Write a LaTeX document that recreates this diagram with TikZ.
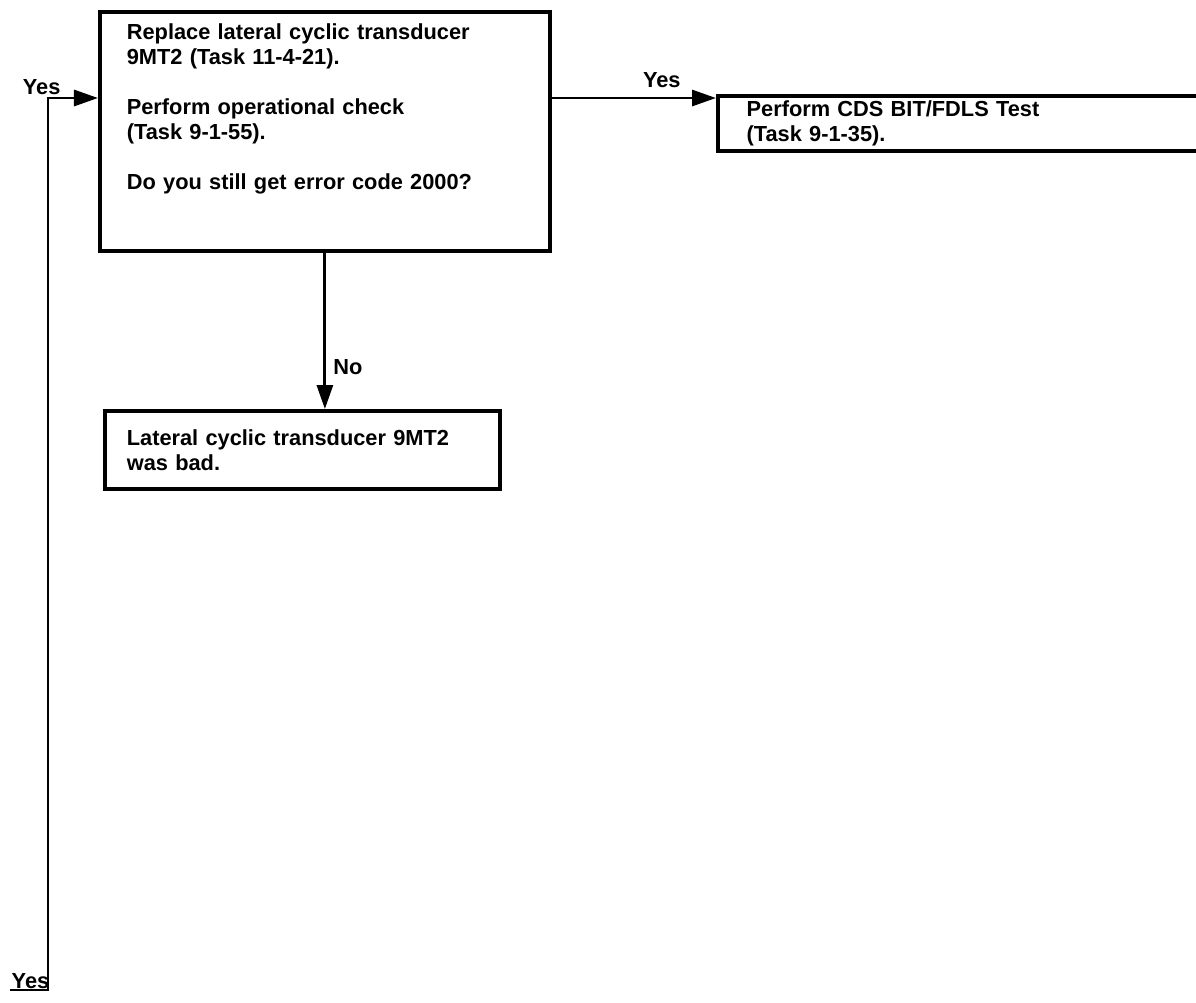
\documentclass[tikz,border=0pt]{standalone}
\usepackage{fontspec}
\setmainfont{Liberation Sans}
\usetikzlibrary{arrows.meta,calc,positioning}

\begin{document}
\begin{tikzpicture}[
  x=0.025cm,
  y=-0.025cm,
  font=\fontsize{15.5}{17.8}\selectfont\bfseries,
  taskbox/.style={
    draw=black,
    line width=2.6pt,
    align=left,
    anchor=north west
  },
  flow/.style={
    black,
    line width=2.1pt,
    -{Triangle[length=0.6cm,width=0.4cm]}
  },
  lbl/.style={
    inner sep=2pt,
    font=\fontsize{15.5}{18}\selectfont\bfseries
  }
]

\useasboundingbox (0,0) rectangle (1196,1002);

\node[taskbox,text width=9.9cm,inner xsep=0.675cm,inner ysep=0.3cm]
  (replace) at (98,10)
  {Replace lateral cyclic transducer\\
   9MT2 (Task 11-4-21).\\[17.8pt]
   Perform operational check\\
   (Task 9-1-55).\\[17.8pt]
   Do you still get error code 2000?\\[0.6cm]
   \mbox{}};

\node[taskbox,text width=11.1cm,inner xsep=0.72cm,inner ysep=0pt,
      minimum height=1.38cm]
  (cdstest) at (716,94)
  {Perform CDS BIT/FDLS Test\\
   (Task 9-1-35).};

\node[taskbox,text width=8.775cm,inner xsep=0.55cm,inner ysep=0pt,
      minimum height=1.95cm]
  (wasbad) at (103,409)
  {Lateral cyclic transducer 9MT2\\
   was bad.};

\coordinate (loopend) at (10,990);
\coordinate (loopcorner) at (48,990);
\coordinate (looptop) at (48,98);

% yes branch to the right
\draw[flow] ([yshift=-0.1cm]cdstest.north west -| replace.east)
  -- ([yshift=-0.1cm]cdstest.north west)
  node[lbl,pos=0.67,above=4pt] {Yes};

% no branch downwards
\draw[flow] (replace.south) -- (replace.south |- wasbad.north)
  node[lbl,pos=0.73,right=3pt] {No};

% yes loop coming up from below
\draw[flow] (loopend) -- (loopcorner) -- (looptop)
  -- (looptop -| replace.west);
\node[lbl,anchor=south] at ([xshift=-0.16cm]looptop) {Yes};
\node[lbl,anchor=south west,inner sep=1pt] at (loopend) {Yes};

\end{tikzpicture}
\end{document}
